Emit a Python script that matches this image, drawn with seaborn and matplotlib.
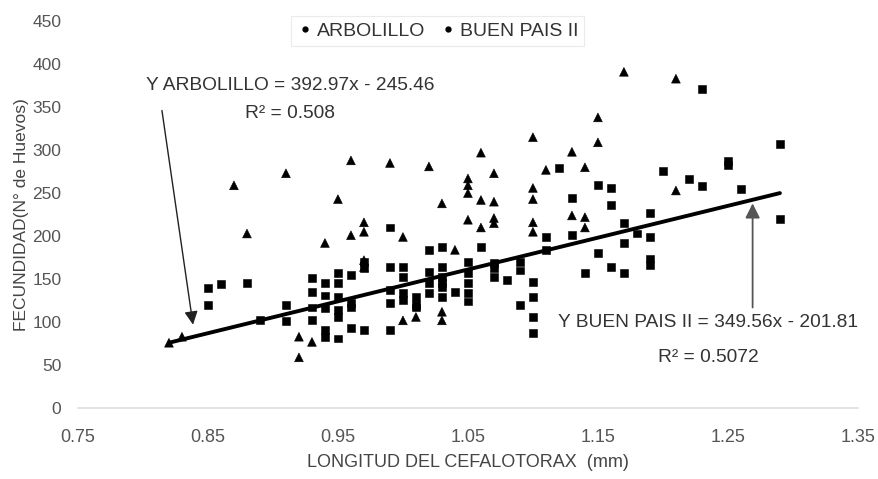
import matplotlib
matplotlib.use("Agg")
import matplotlib.pyplot as plt
import seaborn as sns
import pandas as pd
from matplotlib.lines import Line2D

# ---------------- data ----------------
arb_x = [0.82, 0.83, 0.87, 0.88, 0.91, 0.92, 0.92, 0.93, 0.94, 0.95, 0.96, 0.96,
         0.97, 0.97, 0.97, 0.97, 0.99, 1.00, 1.00, 1.01, 1.02, 1.03, 1.03, 1.03,
         1.04, 1.05, 1.05, 1.05, 1.05, 1.06, 1.06, 1.06, 1.07, 1.07, 1.07, 1.07,
         1.10, 1.10, 1.10, 1.10, 1.10, 1.11, 1.13, 1.13, 1.14, 1.14, 1.14, 1.15,
         1.15, 1.17, 1.21, 1.21]
arb_y = [76, 83, 259, 203, 273, 83, 59, 77, 192, 243, 201, 288,
         216, 205, 172, 164, 285, 199, 102, 106, 281, 238, 112, 102,
         184, 267, 259, 250, 219, 297, 242, 210, 273, 240, 221, 215,
         315, 256, 243, 216, 205, 277, 298, 224, 280, 222, 210, 338,
         309, 391, 383, 253]

bp_x = [0.85, 0.86, 0.88, 0.85, 0.89, 0.91, 0.91,
        0.93, 0.93, 0.93, 0.93,
        0.94, 0.94, 0.94, 0.94, 0.94,
        0.95, 0.95, 0.95, 0.95, 0.95, 0.95,
        0.96, 0.96, 0.96, 0.96,
        0.97, 0.97, 0.97,
        0.99, 0.99, 0.99, 0.99, 0.99,
        1.00, 1.00, 1.00, 1.00,
        1.01, 1.01, 1.01,
        1.02, 1.02, 1.02, 1.02,
        1.03, 1.03, 1.03, 1.03, 1.03, 1.03,
        1.04,
        1.05, 1.05, 1.05, 1.05, 1.05,
        1.06,
        1.07, 1.07, 1.07,
        1.08,
        1.09, 1.09, 1.09,
        1.10, 1.10, 1.10, 1.10,
        1.11, 1.11,
        1.12,
        1.13, 1.13,
        1.14,
        1.15, 1.15,
        1.16, 1.16, 1.16,
        1.17, 1.17, 1.17,
        1.18,
        1.19, 1.19, 1.19, 1.19,
        1.20, 1.22, 1.23, 1.23, 1.25, 1.25, 1.26, 1.29, 1.29]
bp_y = [140, 144, 145, 120, 102, 120, 101,
        151, 135, 117, 102,
        145, 131, 116, 91, 83,
        157, 145, 129, 114, 106, 81,
        155, 122, 117, 93,
        170, 163, 91,
        210, 164, 137, 122, 91,
        164, 152, 134, 126,
        129, 120, 117,
        184, 158, 145, 134,
        187, 164, 152, 145, 141, 129,
        135,
        170, 157, 145, 134, 124,
        187,
        169, 163, 152,
        149,
        170, 160, 120,
        147, 129, 106, 87,
        199, 184,
        279,
        244, 201,
        157,
        259, 180,
        256, 236, 164,
        215, 192, 157,
        203,
        227, 199, 174, 166,
        276, 266, 371, 258, 287, 283, 255, 307, 220]

series_names = ["ARBOLILLO", "BUEN PAIS II"]
slopes = [392.97, 349.56]
intercepts = [-245.46, -201.81]
r2_values = ["0.508", "0.5072"]

# trend line as drawn in the picture (endpoints)
trend_x = [0.82, 1.29]
trend_y = [76, 250]

x_ticks = [0.75, 0.85, 0.95, 1.05, 1.15, 1.25, 1.35]
y_ticks = [0, 50, 100, 150, 200, 250, 300, 350, 400, 450]

# ---------------- build frames ----------------
df = pd.DataFrame({
    "x": arb_x + bp_x,
    "y": arb_y + bp_y,
    "serie": [series_names[0]] * len(arb_x) + [series_names[1]] * len(bp_x),
})
ldf = pd.DataFrame({"x": trend_x, "y": trend_y})

# ---------------- plot ----------------
sns.set_style("white")
plt.rcParams["font.family"] = ["Liberation Sans", "DejaVu Sans"]

fig = plt.figure(figsize=(8.79, 4.79), dpi=100)
ax = fig.add_axes([0.0887, 0.148, 0.8873, 0.808])

sns.scatterplot(data=df, x="x", y="y", hue="serie", style="serie",
                palette={series_names[0]: "black", series_names[1]: "black"},
                markers={series_names[0]: "^", series_names[1]: "s"},
                size="serie", sizes={series_names[0]: 40, series_names[1]: 32},
                edgecolor="black", linewidth=0.4, ax=ax, legend=False,
                zorder=3)

sns.lineplot(data=ldf, x="x", y="y", color="black", linewidth=2.8,
             ax=ax, legend=False, zorder=4)

ax.set_xlim(0.75, 1.35)
ax.set_ylim(0, 450)
ax.set_xticks(x_ticks)
ax.set_xticklabels([f"{v:.2f}" for v in x_ticks])
ax.set_yticks(y_ticks)
ax.tick_params(axis="x", labelsize=13, colors="#555555", length=0, pad=15)
ax.tick_params(axis="y", labelsize=12.5, colors="#555555", length=0, pad=12)

for side in ["top", "right", "left"]:
    ax.spines[side].set_visible(False)
ax.spines["bottom"].set_color("#dddddd")
ax.spines["bottom"].set_linewidth(1.2)

ax.set_xlabel("LONGITUD DEL CEFALOTORAX  (mm)", fontsize=13, color="#444444", labelpad=6)
ax.set_ylabel("FECUNDIDAD(N° de Huevos)", fontsize=12.5, color="#444444", labelpad=2)

# equations
ax.text(0.913, 375, f"Y {series_names[0]} = {slopes[0]:.2f}x - {abs(intercepts[0]):.2f}",
        ha="center", va="center", fontsize=13.8, color="#333333")
ax.text(0.913, 343, f"R² = {r2_values[0]}", ha="center", va="center",
        fontsize=13.8, color="#333333")
ax.text(1.235, 99, f"Y {series_names[1]} = {slopes[1]:.2f}x - {abs(intercepts[1]):.2f}",
        ha="center", va="center", fontsize=13.8, color="#333333")
ax.text(1.235, 59, f"R² = {r2_values[1]}", ha="center", va="center",
        fontsize=13.8, color="#333333")

# arrows
ax.annotate("", xy=(0.8385, 97), xytext=(0.8146, 346),
            arrowprops=dict(arrowstyle="-|>", color="#222222", lw=1.0,
                            mutation_scale=20, shrinkA=0, shrinkB=0))
ax.annotate("", xy=(1.269, 238), xytext=(1.269, 117),
            arrowprops=dict(arrowstyle="-|>", color="#555555", lw=1.3,
                            mutation_scale=22, shrinkA=0, shrinkB=0))

# legend
handles = [Line2D([], [], marker="o", color="black", linestyle="none", markersize=3.5),
           Line2D([], [], marker="o", color="black", linestyle="none", markersize=3.5)]
leg = fig.legend(handles, series_names, loc="center", bbox_to_anchor=(0.498, 0.935),
                 ncol=2, fontsize=14, frameon=True, handletextpad=0.2,
                 columnspacing=0.8, borderpad=0.3, fancybox=False, handlelength=0.8)
leg.get_frame().set_edgecolor("#e6e6e6")
leg.get_frame().set_linewidth(0.8)
for t in leg.get_texts():
    t.set_color("#333333")

fig.savefig("out.png", dpi=100)
